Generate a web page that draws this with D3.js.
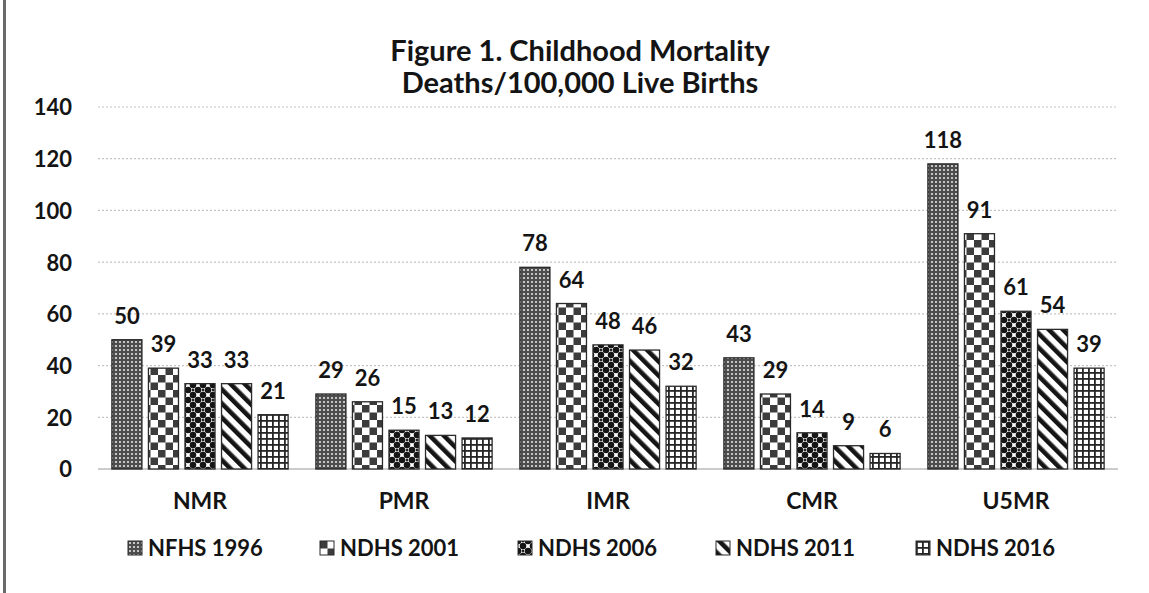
<!DOCTYPE html>
<html>
<head>
<meta charset="utf-8">
<script src="https://cdn.jsdelivr.net/npm/d3@7"></script>
<style>
  html, body { margin: 0; padding: 0; background: #fff; }
  svg { display: block; font-family: Lato, "Open Sans", sans-serif; }
</style>
</head>
<body>
<svg id="chart" width="1149" height="593"></svg>
<script>
// Childhood mortality indicators by survey round
const categories = ["NMR", "PMR", "IMR", "CMR", "U5MR"];
const surveys = ["NFHS 1996", "NDHS 2001", "NDHS 2006", "NDHS 2011", "NDHS 2016"];
const nfhs1996 = [50, 29, 78, 43, 118];
const ndhs2001 = [39, 26, 64, 29, 91];
const ndhs2006 = [33, 15, 48, 14, 61];
const ndhs2011 = [33, 13, 46, 9, 54];
const ndhs2016 = [21, 12, 32, 6, 39];
const yTicks = [0, 20, 40, 60, 80, 100, 120, 140];
const titleLines = ["Figure 1. Childhood Mortality", "Deaths/100,000 Live Births"];

const seriesValues = [nfhs1996, ndhs2001, ndhs2006, ndhs2011, ndhs2016];
const rows = categories.map((c, i) => ({
  category: c,
  values: surveys.map((s, j) => ({ survey: s, idx: j, value: seriesValues[j][i] }))
}));

const svg = d3.select("#chart");
const ink = "#141414";

// ---- fill patterns, one per survey ----
const defs = svg.append("defs");

// 1: fine dotted screen
const p1 = defs.append("pattern").attr("id", "pat0").attr("patternUnits", "userSpaceOnUse")
  .attr("width", 4).attr("height", 4);
p1.append("rect").attr("width", 4).attr("height", 4).attr("fill", "#4d4d4d");
p1.append("circle").attr("cx", 2).attr("cy", 2).attr("r", 1.05).attr("fill", "#e4e4e4");

// 2: checkerboard
const p2 = defs.append("pattern").attr("id", "pat1").attr("patternUnits", "userSpaceOnUse")
  .attr("width", 15).attr("height", 15);
p2.append("rect").attr("width", 15).attr("height", 15).attr("fill", "#fff");
p2.append("rect").attr("width", 7.5).attr("height", 7.5).attr("fill", "#3c3c3c");
p2.append("rect").attr("x", 7.5).attr("y", 7.5).attr("width", 7.5).attr("height", 7.5).attr("fill", "#3c3c3c");

// 3: dark spheres
const p3 = defs.append("pattern").attr("id", "pat2").attr("patternUnits", "userSpaceOnUse")
  .attr("width", 10).attr("height", 10);
p3.append("rect").attr("width", 10).attr("height", 10).attr("fill", "#fff");
[[0, 0], [10, 0], [0, 10], [10, 10], [5, 5]].forEach(([cx, cy]) => {
  p3.append("circle").attr("cx", cx).attr("cy", cy).attr("r", 3.3).attr("fill", "#151515");
});
p3.append("rect").attr("x", 3.8).attr("y", 0).attr("width", 2.4).attr("height", 1.3).attr("fill", "#222");
p3.append("rect").attr("x", 3.8).attr("y", 8.7).attr("width", 2.4).attr("height", 1.3).attr("fill", "#222");

// 4: wide downward diagonal stripes
const p4 = defs.append("pattern").attr("id", "pat3").attr("patternUnits", "userSpaceOnUse")
  .attr("width", 10).attr("height", 10).attr("patternTransform", "rotate(-45)");
p4.append("rect").attr("width", 10).attr("height", 10).attr("fill", "#fff");
p4.append("rect").attr("width", 4.6).attr("height", 10).attr("fill", "#151515");

// 5: small grid
const p5 = defs.append("pattern").attr("id", "pat4").attr("patternUnits", "userSpaceOnUse")
  .attr("width", 6).attr("height", 6);
p5.append("rect").attr("width", 6).attr("height", 6).attr("fill", "#fff");
p5.append("rect").attr("width", 6).attr("height", 1.8).attr("fill", "#262626");
p5.append("rect").attr("width", 1.8).attr("height", 6).attr("fill", "#262626");

// ---- scales ----
const x0 = d3.scaleBand().domain(categories).range([98, 1118]).padding(0);
const x1 = d3.scaleBand().domain(surveys).range([0, x0.bandwidth()])
  .paddingInner(0.178).paddingOuter(0.38);
const y = d3.scaleLinear().domain([0, 140]).range([469, 107]);

// frame line at the left edge
svg.append("rect").attr("x", 3).attr("y", 0).attr("width", 3).attr("height", 593).attr("fill", "#6a6a6a");

// ---- gridlines ----
svg.append("g").selectAll("line").data(yTicks).join("line")
  .attr("x1", 98).attr("x2", 1118)
  .attr("y1", d => y(d)).attr("y2", d => y(d))
  .attr("stroke", d => d === 0 ? "#9a9a9a" : "#c4c4c4")
  .attr("stroke-width", 1.2)
  .attr("stroke-dasharray", d => d === 0 ? null : "2,2");

// ---- y axis tick labels ----
const yAxis = d3.axisLeft(y).tickValues(yTicks).tickSize(0).tickPadding(0);
const yg = svg.append("g").attr("transform", "translate(72,0)").call(yAxis);
yg.select(".domain").remove();
yg.selectAll("text").attr("font-size", 22).attr("font-weight", 700).attr("fill", ink)
  .attr("font-family", "Lato, sans-serif").attr("dy", "0.36em");

// ---- x axis category labels ----
const xAxis = d3.axisBottom(x0).tickSize(0).tickPadding(0);
const xg = svg.append("g").attr("transform", "translate(0,492)").call(xAxis);
xg.select(".domain").remove();
xg.selectAll("text").attr("font-size", 23).attr("font-weight", 700).attr("fill", ink)
  .attr("font-family", "Lato, sans-serif").attr("dy", "0.76em");

// ---- bars ----
const groups = svg.append("g").selectAll("g").data(rows).join("g")
  .attr("transform", d => `translate(${x0(d.category)},0)`);

groups.selectAll("rect").data(d => d.values).join("rect")
  .attr("x", d => x1(d.survey))
  .attr("y", d => y(d.value))
  .attr("width", x1.bandwidth())
  .attr("height", d => y(0) - y(d.value))
  .attr("fill", d => `url(#pat${d.idx})`)
  .attr("stroke", "#2a2a2a")
  .attr("stroke-width", 1.3);

groups.selectAll("text").data(d => d.values).join("text")
  .attr("x", d => x1(d.survey) + x1.bandwidth() / 2)
  .attr("y", d => y(d.value) - 16)
  .attr("text-anchor", "middle")
  .attr("font-size", 22).attr("font-weight", 700).attr("fill", ink)
  .text(d => d.value);

// ---- title ----
svg.append("g").selectAll("text").data(titleLines).join("text")
  .attr("x", 580).attr("y", (d, i) => 61 + i * 32)
  .attr("text-anchor", "middle")
  .attr("font-size", 29).attr("font-weight", 700).attr("fill", ink)
  .text(d => d);

// ---- legend ----
const legendX = [128, 320, 518, 716, 916];
const lg = svg.append("g").selectAll("g").data(surveys).join("g")
  .attr("transform", (d, i) => `translate(${legendX[i]},541)`);
lg.append("rect").attr("width", 14).attr("height", 14)
  .attr("fill", (d, i) => `url(#pat${i})`).attr("stroke", "#2a2a2a").attr("stroke-width", 1);
lg.append("text").attr("x", 20).attr("y", 15)
  .attr("font-size", 22).attr("font-weight", 700).attr("fill", ink)
  .text(d => d);
</script>
</body>
</html>
